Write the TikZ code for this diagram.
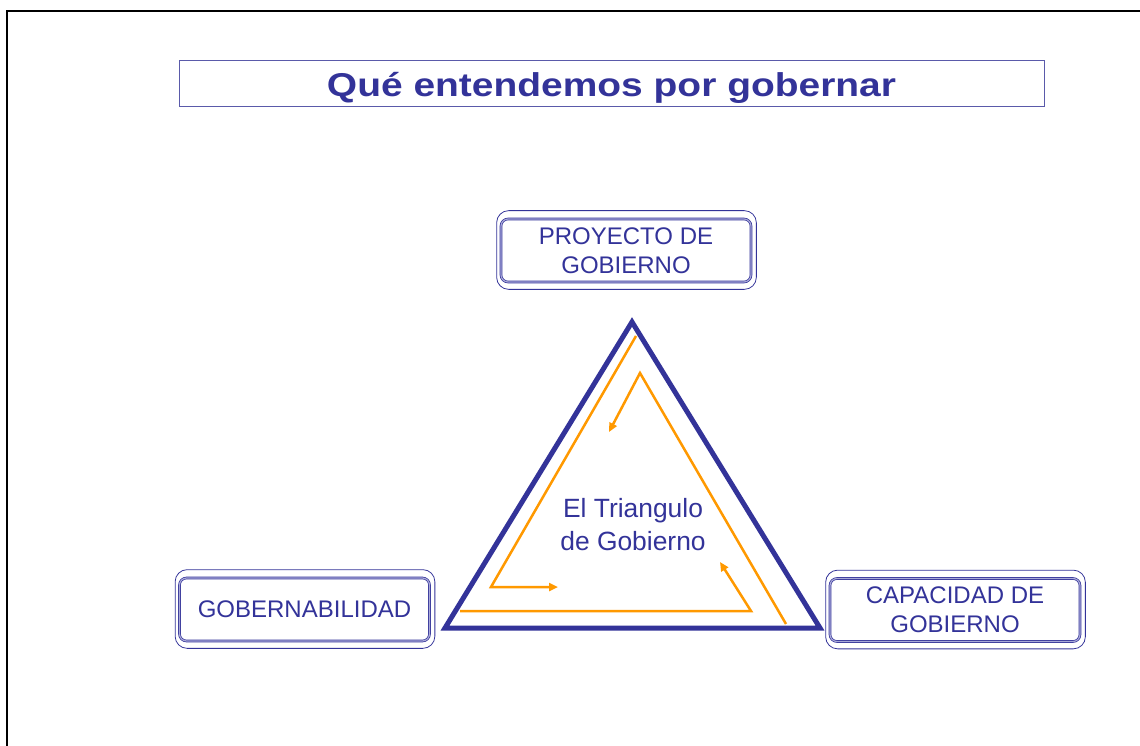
\documentclass[tikz,border=0pt]{standalone}
\usepackage{fontspec}
\setmainfont{Liberation Sans}
\usetikzlibrary{arrows.meta}
\definecolor{navy}{HTML}{333399}
\definecolor{boxlight}{HTML}{A8A8D8}
\definecolor{tituloline}{HTML}{5A5AAA}
\definecolor{flecha}{HTML}{FF9900}

\begin{document}
\begin{tikzpicture}[
            x=1pt, y=-1pt,
            every node/.style={text=navy, align=center, inner sep=0pt},
            caja/.style={draw=navy, line width=0.7pt, double=boxlight, double distance=1.2pt,
                rounded corners=7pt, minimum width=250pt, minimum height=63pt,
                font=\fontsize{24}{29}\selectfont},
            marco/.style={draw=navy, line width=0.8pt, rounded corners=12pt},
            ciclo/.style={draw=flecha, line width=2.5pt, -{Triangle[length=9pt,width=8pt]}},
            lado/.style={draw=navy, line width=5pt, line join=miter}
            ]
            \useasboundingbox (0,0) rectangle (1140,746);
            \fill[white] (0,0) rectangle (1140,746);
            \draw[line width=2.5pt] (7,750) -- (7,11) -- (1145,11);

            \node[draw=tituloline, line width=1pt, minimum width=865pt, minimum height=46pt,
                text height=30pt, text depth=4pt,
                font=\fontsize{33}{40}\selectfont\bfseries] (titulo) at (611.5,84)
                {\scalebox{1.18}[1]{Qué entendemos por gobernar}};

            \node[caja] (proyecto) at (626,250.5) {PROYECTO DE\\GOBIERNO};
            \node[caja] (gobernab) at (304.5,609.5) {GOBERNABILIDAD};
            \node[caja] (capacidad) at (955,610) {CAPACIDAD DE\\GOBIERNO};

            \foreach \n in {proyecto,gobernab,capacidad}{
                \draw[marco] ([shift={(-4,-8)}]\n.north west) rectangle ([shift={(5,7)}]\n.south east);
            }

            \coordinate (apex) at (632,322);
            \coordinate (izq) at (445,628);
            \coordinate (der) at (820,628);
            \draw[lado] (apex) -- (izq) -- (der) -- cycle;

            \draw[ciclo] (636,336) -- (491,587) -- (558,587);
            \draw[ciclo] (460,611) -- (751,611) -- (720,562);
            \draw[ciclo] (786,624) -- (640,373) -- (609,432);

            \node[font=\fontsize{26.4}{33}\selectfont] (centro) at (633,525) {El Triangulo\\de Gobierno};
        \end{tikzpicture}
\end{document}
